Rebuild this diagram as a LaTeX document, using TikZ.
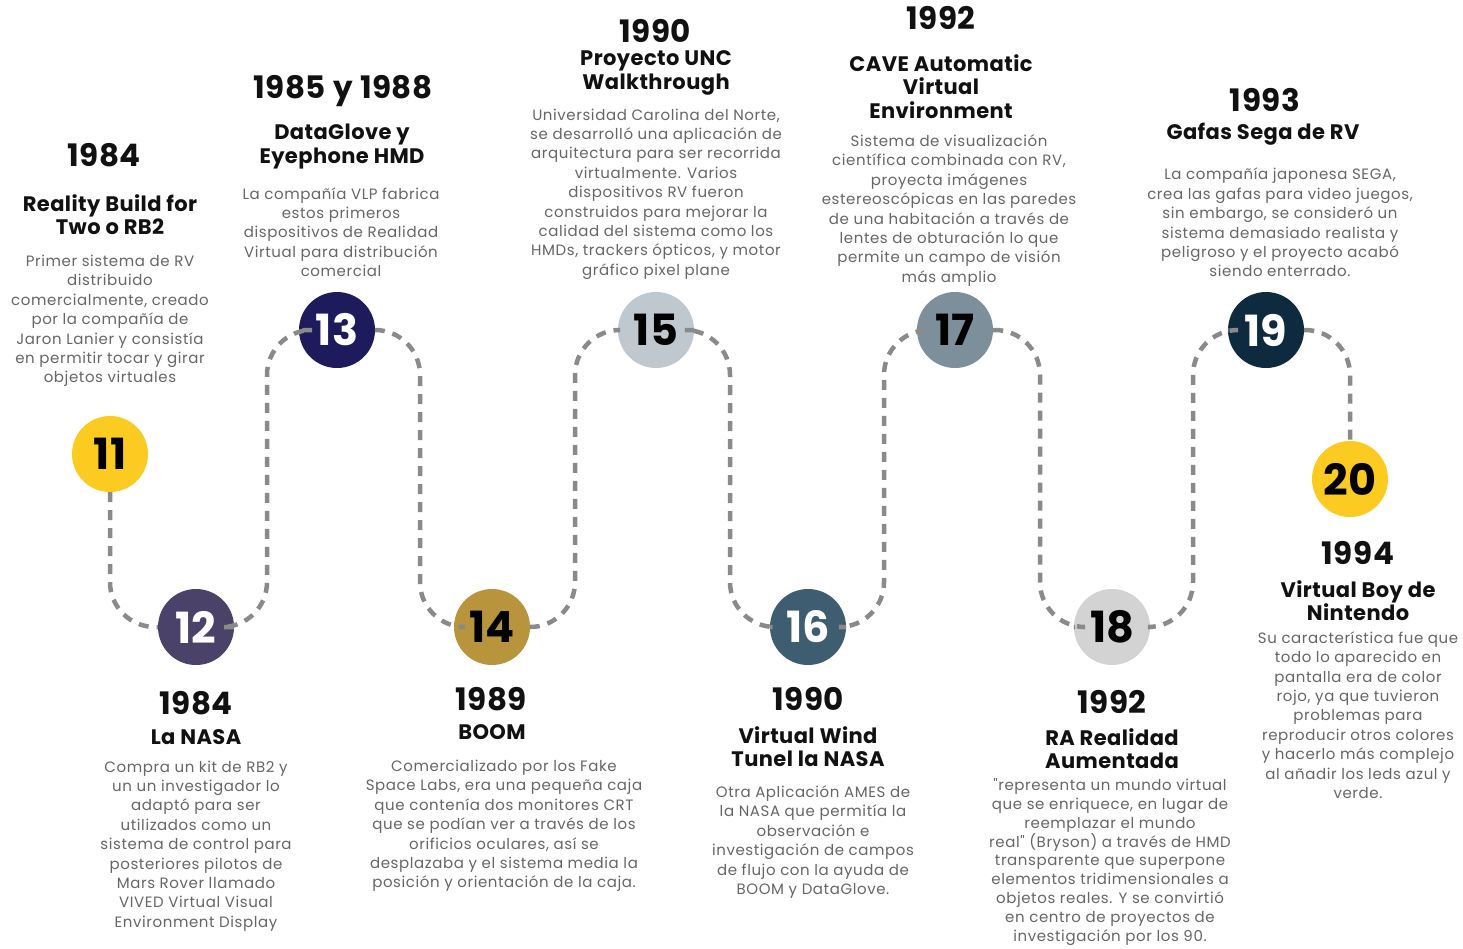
\documentclass[tikz,border=0pt]{standalone}
\usepackage{fontspec}
\setmainfont{Poppins}
\newfontfamily\wideface[LetterSpace=2]{Poppins}
\newfontfamily\bodyface[LetterSpace=4]{Poppins}
\definecolor{ink}{HTML}{111111}
\definecolor{bodygrey}{HTML}{666666}
\definecolor{trailgrey}{HTML}{8A8A8A}
\definecolor{sun}{HTML}{FBCB22}
\definecolor{plum}{HTML}{4A4269}
\definecolor{navy}{HTML}{1E1B5C}
\definecolor{gold}{HTML}{B8943C}
\definecolor{mist}{HTML}{BFC7CF}
\definecolor{slate}{HTML}{3F5D70}
\definecolor{steel}{HTML}{7D8F9A}
\definecolor{silver}{HTML}{D3D3D3}
\definecolor{abyss}{HTML}{0E2A3F}
\tikzset{
  dot/.style={circle, minimum size=76pt, inner sep=0pt, fill=#1,
    font=\fontsize{43}{43}\selectfont\bfseries},
  yr/.style={font=\wideface\fontsize{31}{31}\selectfont\bfseries, text=ink, inner sep=0pt},
  ttl/.style={font=\wideface\fontsize{21}{23.5}\selectfont\bfseries, align=center, text=ink, inner sep=0pt},
  txt/.style={font=\bodyface\fontsize{15}{19.4}\selectfont, align=center, text=bodygrey, inner sep=0pt},
  tighttxt/.style={txt, font=\bodyface\fontsize{15}{18.9}\selectfont},
  trail/.style={draw=trailgrey, line width=4.5pt, dash pattern=on 10pt off 8pt, rounded corners=45pt},
}
\begin{document}
\begin{tikzpicture}[x=1pt,y=-1pt]
\useasboundingbox[fill=white] (0,0) rectangle (1463,948);

% milestone discs
\node[dot=sun,  text=black] (c11) at (110,454)  {11};
\node[dot=plum, text=white] (c12) at (196,627)  {12};
\node[dot=navy, text=white] (c13) at (337,330)  {13};
\node[dot=gold, text=black] (c14) at (492,627)  {14};
\node[dot=mist, text=black] (c15) at (656,330)  {15};
\node[dot=slate,text=white] (c16) at (808,627)  {16};
\node[dot=steel,text=black] (c17) at (955,330)  {17};
\node[dot=silver,text=black](c18) at (1112,627) {18};
\node[dot=abyss,text=white] (c19) at (1266,330) {19};
\node[dot=sun,  text=black] (c20) at (1350,479) {20};

% turning points of the trail
\coordinate (m1) at (267,480);
\coordinate (m2) at (420,480);
\coordinate (m3) at (575,480);
\coordinate (m4) at (730,480);
\coordinate (m5) at (884,480);
\coordinate (m6) at (1040,480);
\coordinate (m7) at (1193,480);

% dashed trail between the discs
\draw[trail] (c11) |- (c12);
\draw[trail] (c12) -| (m1) |- (c13);
\draw[trail] (c13) -| (m2) |- (c14);
\draw[trail] (c14) -| (m3) |- (c15);
\draw[trail] (c15) -| (m4) |- (c16);
\draw[trail] (c16) -| (m5) |- (c17);
\draw[trail] (c17) -| (m6) |- (c18);
\draw[trail] (c18) -| (m7) |- (c19);
\draw[trail] (c19) -| (c20);

% 11
\node[yr]  (y11) at (104,155) {1984};
\node[ttl] (t11) at (110,214.5) {Reality Build for\\Two o RB2};
\node[txt] (b11) at (110,321) {Primer sistema de RV\\distribuido\\comercialmente, creado\\por la compañía de\\Jaron Lanier y consistía\\en permitir tocar y girar\\objetos virtuales};

% 12
\node[yr]  (y12) at (196,703) {1984};
\node[ttl] (t12) at (196,737) {La NASA};
\node[txt] (b12) at (196,846) {Compra un kit de RB2 y\\un un investigador lo\\adaptó para ser\\utilizados como un\\sistema de control para\\posteriores pilotos de\\Mars Rover llamado\\VIVED Virtual Visual\\Environment Display};

% 13
\node[yr]  (y13) at (343,91) {1985 y 1988};
\node[ttl] (t13) at (342,146.5) {DataGlove y\\Eyephone HMD};
\node[txt] (b13) at (341,232) {La compañía VLP fabrica\\estos primeros\\dispositivos de Realidad\\Virtual para distribución\\comercial};

% 14
\node[yr]  (y14) at (491,699) {1989};
\node[ttl] (t14) at (492,732) {BOOM};
\node[txt] (b14) at (504,826) {Comercializado por los Fake\\Space Labs, era una pequeña caja\\que contenía dos monitores CRT\\que se podían ver a través de los\\orificios oculares, así se\\desplazaba y el sistema media la\\posición y orientación de la caja.};

% 15
\node[yr]  (y15) at (655,31) {1990};
\node[ttl] (t15) at (656,73) {Proyecto UNC\\Walkthrough};
\node[txt] (b15) at (656,194) {Universidad Carolina del Norte,\\se desarrolló una aplicación de\\arquitectura para ser recorrida\\virtualmente. Varios\\dispositivos RV fueron\\construidos para mejorar la\\calidad del sistema como los\\HMDs, trackers ópticos, y motor\\gráfico pixel plane};

% 16
\node[yr]  (y16) at (808,699) {1990};
\node[ttl] (t16) at (808,746.5) {Virtual Wind\\Tunel la NASA};
\node[txt] (b16) at (813,842) {Otra Aplicación AMES de\\la NASA que permitía la\\observación e\\investigación de campos\\de flujo con la ayuda de\\BOOM y DataGlove.};

% 17
\node[yr]  (y17) at (941,18) {1992};
\node[ttl] (t17) at (941,86.5) {CAVE Automatic\\Virtual\\Environment};
\node[txt] (b17) at (949,210.5) {Sistema de visualización\\científica combinada con RV,\\proyecta imágenes\\estereoscópicas en las paredes\\de una habitación a través de\\lentes de obturación lo que\\permite un campo de visión\\más amplio};

% 18
\node[yr]  (y18) at (1112,702) {1992};
\node[ttl] (t18) at (1112,748.5) {RA Realidad\\Aumentada};
\node[tighttxt] (b18) at (1110,862) {"representa un mundo virtual\\que se enriquece, en lugar de\\reemplazar el mundo\\real" (Bryson) a través de HMD\\transparente que superpone\\elementos tridimensionales a\\objetos reales. Y se convirtió\\en centro de proyectos de\\investigación por los 90.};

% 19
\node[yr]  (y19) at (1265,100) {1993};
\node[ttl] (t19) at (1263,134) {Gafas Sega de RV};
\node[txt] (b19) at (1280,222.5) {La compañía japonesa SEGA,\\crea las gafas para video juegos,\\sin embargo, se consideró un\\sistema demasiado realista y\\peligroso y el proyecto acabó\\siendo enterrado.};

% 20
\node[yr]  (y20) at (1358,553) {1994};
\node[ttl] (t20) at (1358,600.5) {Virtual Boy de\\Nintendo};
\node[txt] (b20) at (1358,715) {Su característica fue que\\todo lo aparecido en\\pantalla era de color\\rojo, ya que tuvieron\\problemas para\\reproducir otros colores\\y hacerlo más complejo\\al añadir los leds azul y\\verde.};
\end{tikzpicture}
\end{document}
